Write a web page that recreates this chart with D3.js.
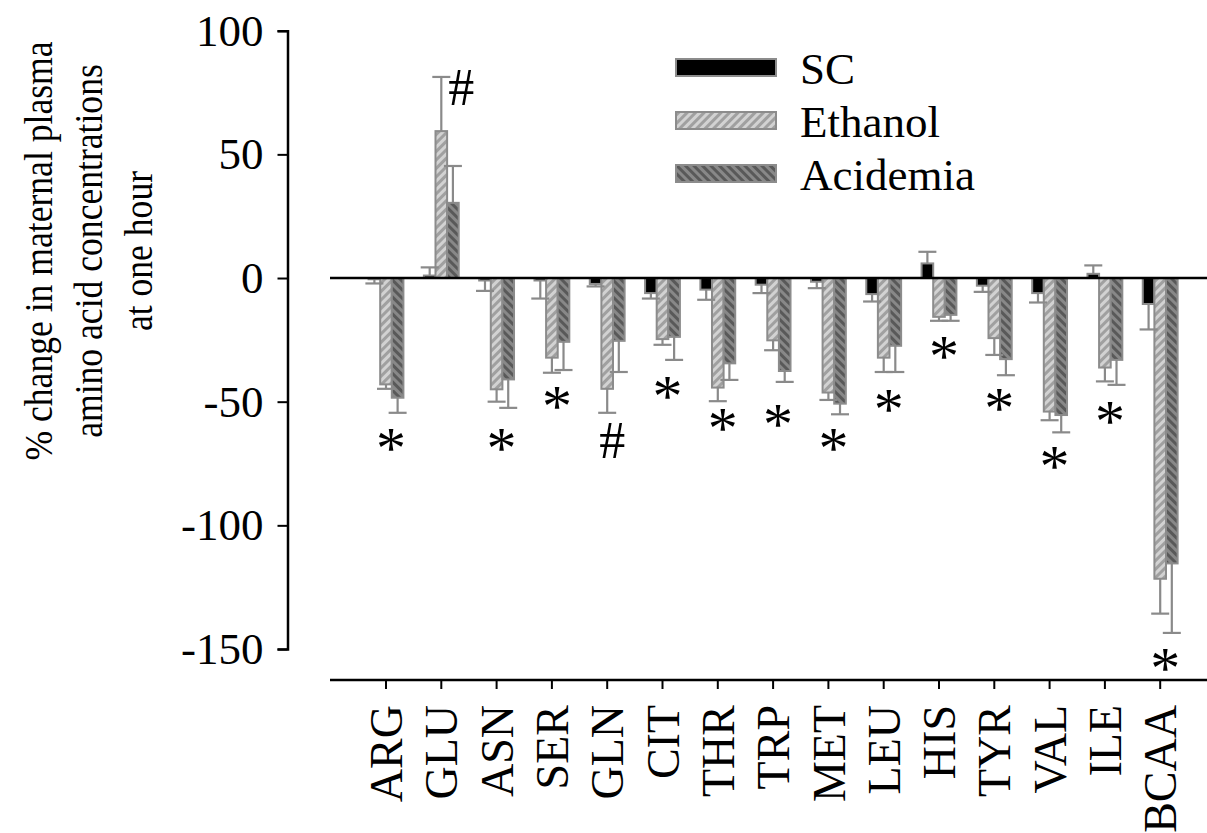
<!DOCTYPE html>
<html>
<head>
<meta charset="utf-8">
<script src="https://cdn.jsdelivr.net/npm/d3@7/dist/d3.min.js"></script>
<style>
html, body { margin: 0; padding: 0; background: #fff; }
svg { display: block; }
text { font-family: "Liberation Serif", "Times New Roman", serif; fill: #000; }
</style>
</head>
<body>
<svg id="chart" width="1207" height="833"></svg>
<script>
// ---------- data ----------
const categories = ["ARG","GLU","ASN","SER","GLN","CIT","THR","TRP","MET","LEU","HIS","TYR","VAL","ILE","BCAA"];
const seriesNames = ["SC","Ethanol","Acidemia"];
const scValues   = [-0.5, 1, -1, -1, -2.4, -6.1, -4.7, -2.7, -1.5, -6.5, 5.9, -3.1, -6.1, 1.7, -10.5];
const scErrors   = [1.7, 3.3, 4.2, 7.3, 1, 2.2, 4.1, 3.4, 2.6, 3, 4.7, 2.5, 3.8, 3.4, 10.3];
const ethValues  = [-43, 59.4, -45, -32.2, -44.8, -24.7, -44.3, -25.2, -46.3, -32.2, -15.7, -24.3, -54, -36.2, -121.6];
const ethErrors  = [1.8, 21.9, 5, 6.1, 9.7, 2.3, 5.5, 4, 3, 5.8, 1.6, 6.8, 3.5, 5.6, 14.1];
const acidValues = [-48.4, 30.4, -41, -25.8, -25.4, -23.8, -34.5, -37.6, -50.8, -27.4, -14.9, -32.8, -55.4, -33.1, -115.4];
const acidErrors = [6.1, 14.9, 11.5, 11.4, 12.6, 9.3, 6.7, 4.4, 4.3, 10.6, 2.4, 6.5, 7, 10.1, 28.1];
const yTicks = [100, 50, 0, -50, -100, -150];
// significance markers: category, symbol, value level (data units)
const markerCats   = ["GLU","ARG","ASN","SER","GLN","CIT","THR","TRP","MET","LEU","HIS","TYR","VAL","ILE","BCAA"];
const markerSyms   = ["#","*","*","*","#","*","*","*","*","*","*","*","*","*","*"];
const markerLevels = [77.2,-64.3,-64.3,-47.3,-65.5,-43.3,-56.2,-54.6,-64.3,-48.5,-27.1,-48.1,-71.6,-53.4,-153.3];
const yTitleLines = ["% change in maternal plasma","amino acid concentrations","at one hour"];

// ---------- layout ----------
const svg = d3.select("#chart");
const yAxisX = 287.5;
const zeroStart = 330, plotRight = 1207;
const xAxisY = 680;

const y = d3.scaleLinear().domain([-150, 100]).range([649, 30.7]);
const bandStep = 55.3;
const x = d3.scaleBand().domain(categories)
  .range([386 - bandStep/2, 386 - bandStep/2 + bandStep*categories.length])
  .paddingInner(0.37).paddingOuter(0.185);
const xs = d3.scaleBand().domain(seriesNames).range([0, x.bandwidth()]);

const series = [
  {name:"SC", vals:scValues, errs:scErrors, fill:"#000"},
  {name:"Ethanol", vals:ethValues, errs:ethErrors, fill:"url(#hatchEth)"},
  {name:"Acidemia", vals:acidValues, errs:acidErrors, fill:"url(#hatchAcid)"}
];

// patterns
const defs = svg.append("defs");
function hatch(id, bg, fg, angle) {
  const p = defs.append("pattern").attr("id", id)
    .attr("patternUnits","userSpaceOnUse").attr("width",6).attr("height",6)
    .attr("patternTransform",`rotate(${angle})`);
  p.append("rect").attr("width",6).attr("height",6).attr("fill",bg);
  p.append("rect").attr("x",0).attr("width",3).attr("height",6).attr("fill",fg);
}
hatch("hatchEth", "#d2d2d2", "#a0a0a0", 45);
hatch("hatchAcid", "#888888", "#595959", -45);

const barStroke = "#8c8c8c";
const errColor = "#8a8a8a";

// bars
series.forEach(s => {
  const g = svg.append("g");
  categories.forEach((c, i) => {
    const v = s.vals[i];
    const bx = x(c) + xs(s.name);
    g.append("rect")
      .attr("x", bx).attr("width", xs.bandwidth())
      .attr("y", Math.min(y(v), y(0))).attr("height", Math.abs(y(v) - y(0)))
      .attr("fill", s.fill).attr("stroke", barStroke).attr("stroke-width", 2);
  });
});

// error bars (one-sided, away from zero)
series.forEach(s => {
  categories.forEach((c, i) => {
    const v = s.vals[i], e = s.errs[i];
    const end = v >= 0 ? v + e : v - e;
    const cx = x(c) + xs(s.name) + xs.bandwidth()/2;
    svg.append("line").attr("x1",cx).attr("x2",cx).attr("y1",y(v)).attr("y2",y(end))
      .attr("stroke",errColor).attr("stroke-width",2.2);
    svg.append("line").attr("x1",cx-9).attr("x2",cx+9).attr("y1",y(end)).attr("y2",y(end))
      .attr("stroke",errColor).attr("stroke-width",2.2);
  });
});

// zero line
svg.append("line").attr("x1", zeroStart).attr("x2", plotRight)
  .attr("y1", y(0)).attr("y2", y(0)).attr("stroke","#000").attr("stroke-width",2.5);

// y axis
const yAxis = d3.axisLeft(y).tickValues(yTicks).tickSize(10).tickPadding(14).tickFormat(d => String(d));
const gy = svg.append("g").attr("transform",`translate(${yAxisX},0)`).call(yAxis);
gy.select(".domain").attr("stroke","#000").attr("stroke-width",2.5);
gy.selectAll(".tick line").attr("stroke","#000").attr("stroke-width",2);
gy.selectAll(".tick text").style("font-family","'Liberation Serif', serif").style("font-size","45px").attr("fill","#000");

// x axis (separate line)
svg.append("line").attr("x1", zeroStart).attr("x2", plotRight)
  .attr("y1", xAxisY).attr("y2", xAxisY).attr("stroke","#000").attr("stroke-width",2.5);
const xAxis = d3.axisBottom(x).tickSize(9).tickPadding(0);
const gx = svg.append("g").attr("transform",`translate(0,${xAxisY})`).call(xAxis);
gx.select(".domain").remove();
gx.selectAll(".tick line").attr("stroke","#000").attr("stroke-width",2);
gx.selectAll(".tick text")
  .style("font-family","'Liberation Serif', serif").style("font-size","46px").attr("fill","#000")
  .attr("text-anchor","end").attr("dy","0.35em")
  .attr("transform","translate(0,25) rotate(-90)").attr("x",0).attr("y",0);

// y title
const tg = svg.append("g").attr("transform","translate(0,251)");
yTitleLines.forEach((t, i) => {
  tg.append("text").attr("transform",`translate(${52 + i*50},0) rotate(-90) scale(0.89,1)`)
    .attr("text-anchor","middle").style("font-size","40px")
    .text(t);
});

// markers
markerCats.forEach((c, i) => {
  const sym = markerSyms[i];
  const cx = x(c) + x.bandwidth()/2 + (c === "GLU" ? 20 : 5);
  const cy = y(markerLevels[i]);
  const fs = sym === "*" ? 60 : 52;
  svg.append("text").attr("x", cx).attr("y", sym === "*" ? cy + 0.52*fs : cy + 0.34*fs)
    .attr("text-anchor","middle").style("font-size", fs + "px").text(sym);
});

// legend
const legend = svg.append("g");
series.forEach((s, i) => {
  const ly = 59 + i*53;
  legend.append("rect").attr("x",676).attr("y",ly).attr("width",100).attr("height",17)
    .attr("fill", s.fill).attr("stroke", barStroke).attr("stroke-width",2);
  legend.append("text").attr("x",800).attr("y",ly+25).style("font-size","45px").text(s.name);
});
</script>
</body>
</html>
